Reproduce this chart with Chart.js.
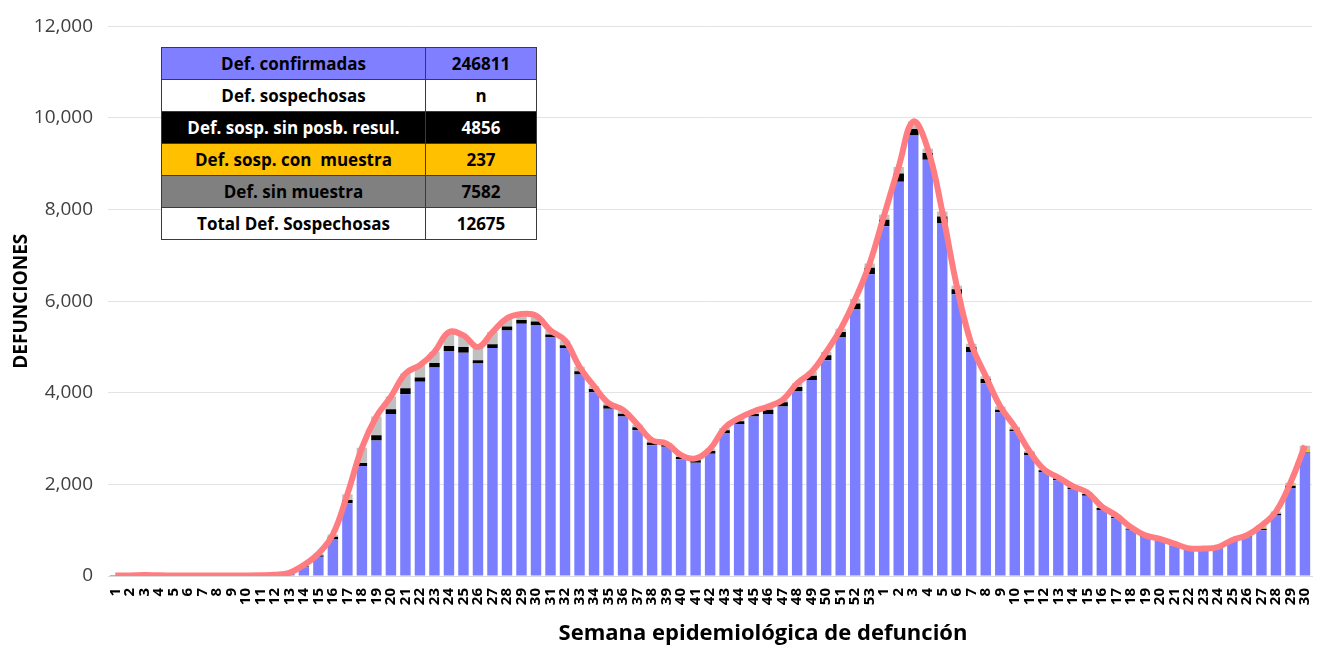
<!DOCTYPE html>
<html lang="es">
<head>
<meta charset="UTF-8">
<title>Defunciones por semana epidemiológica</title>
<script src="https://cdn.jsdelivr.net/npm/chart.js"></script>
<style>
    html, body { margin: 0; padding: 0; background: #fff; }
    #wrap { position: relative; width: 1327px; height: 647px; }
    #tabla {
        position: absolute; left: 161px; top: 47px;
        border-collapse: collapse;
        font-family: "Open Sans", sans-serif; font-weight: 700; font-size: 17px;
        color: #000;
    }
    #tabla td {
        border: 1.5px solid #3a3a3a; height: 31px; padding: 0; text-align: center;
    }
    #tabla td:first-child { width: 263px; }
    #tabla td:last-child { width: 110px; }
</style>
</head>
<body>
<div id="wrap">
    <canvas id="grafica" width="1327" height="647"></canvas>
    <table id="tabla"></table>
</div>
<script>
// semanas: 2020 (1-53) y 2021 (1-30)
const semanas = [
    '1','2','3','4','5','6','7','8','9','10','11','12','13','14','15','16','17','18','19','20',
    '21','22','23','24','25','26','27','28','29','30','31','32','33','34','35','36','37','38','39','40',
    '41','42','43','44','45','46','47','48','49','50','51','52','53',
    '1','2','3','4','5','6','7','8','9','10','11','12','13','14','15','16','17','18','19','20',
    '21','22','23','24','25','26','27','28','29','30'
];

const confirmadas = [
    0, 0, 2, 2, 2, 2, 2, 3, 3, 4, 6, 12, 45, 190, 418, 795, 1587, 2403, 2958, 3535,
    3968, 4242, 4552, 4913, 4877, 4639, 4978, 5361, 5505, 5483, 5216, 4978, 4400, 4011, 3651, 3485, 3182, 2857, 2820, 2547,
    2474, 2669, 3124, 3318, 3485, 3535, 3701, 4041, 4279, 4711, 5216, 5829, 6587,
    7634, 8608, 9617, 9091, 7706, 6154, 4892, 4206, 3578, 3160, 2640, 2273, 2093, 1898, 1753, 1443, 1262, 1010, 851, 780,
    671, 578, 570, 600, 743, 851, 1000, 1320, 1919, 2691
];

const sinPosibResul = [
    8, 8, 10, 8, 6, 5, 5, 5, 5, 5, 5, 8, 10, 15, 30, 60, 70, 65, 115, 108,
    130, 94, 100, 110, 123, 72, 80, 86, 86, 73, 58, 58, 73, 73, 72, 58, 65, 58, 52, 50,
    51, 58, 58, 59, 50, 94, 94, 87, 93, 109, 109, 123, 145,
    143, 180, 145, 145, 144, 108, 108, 94, 51, 36, 51, 36, 35, 35, 36, 44, 30, 22, 15, 10,
    10, 8, 8, 8, 10, 12, 30, 37, 51, 10
];

const conMuestra = [
    0, 0, 0, 0, 0, 0, 0, 0, 0, 0, 0, 0, 0, 0, 0, 0, 0, 0, 0, 0,
    0, 0, 0, 0, 0, 0, 0, 0, 0, 0, 0, 0, 0, 0, 0, 0, 0, 0, 0, 0,
    0, 0, 0, 0, 0, 0, 0, 0, 0, 0, 0, 0, 0,
    0, 0, 0, 0, 0, 0, 0, 0, 0, 0, 0, 0, 0, 0, 0, 0, 0, 0, 3, 3,
    4, 4, 5, 5, 5, 8, 10, 15, 30, 73
];

const sinMuestra = [
    2, 4, 8, 5, 4, 3, 3, 4, 4, 3, 4, 5, 15, 35, 40, 50, 130, 330, 410, 275,
    325, 267, 240, 300, 253, 290, 267, 180, 130, 130, 87, 108, 94, 60, 50, 86, 58, 50, 20, 43,
    43, 50, 50, 71, 58, 72, 51, 78, 87, 72, 71, 94, 93,
    109, 144, 160, 93, 109, 73, 72, 60, 72, 60, 40, 22, 22, 27, 36, 28, 28, 35, 21, 20,
    20, 14, 16, 20, 30, 20, 60, 35, 36, 71
];

// total de defunciones (línea)
const totales = [
    10, 12, 20, 15, 12, 10, 10, 12, 12, 12, 15, 25, 70, 240, 488, 905, 1787, 2798, 3483, 3918,
    4423, 4603, 4892, 5323, 5253, 5001, 5325, 5627, 5721, 5686, 5361, 5144, 4567, 4144, 3773, 3629, 3305, 2965, 2892, 2640,
    2568, 2777, 3232, 3448, 3593, 3701, 3846, 4206, 4459, 4892, 5396, 6046, 6825,
    7886, 8932, 9922, 9329, 7959, 6335, 5072, 4360, 3701, 3256, 2731, 2331, 2150, 1960, 1825, 1515, 1320, 1067, 887, 813,
    705, 604, 599, 633, 788, 891, 1100, 1407, 2036, 2845
];

const yTicks = [0, 2000, 4000, 6000, 8000, 10000, 12000];

// tabla resumen
const filasTabla = ['Def. confirmadas', 'Def. sospechosas', 'Def. sosp. sin posb. resul.', 'Def. sosp. con  muestra', 'Def. sin muestra', 'Total Def. Sospechosas'];
const valoresTabla = ['246811', 'n', '4856', '237', '7582', '12675'];
const fondosTabla = ['#7f7fff', '#ffffff', '#000000', '#ffc000', '#808080', '#ffffff'];
const textoTabla = ['#000', '#000', '#fff', '#000', '#000', '#000'];

const tabla = document.getElementById('tabla');
filasTabla.forEach((f, i) => {
    const tr = document.createElement('tr');
    tr.style.background = fondosTabla[i];
    tr.style.color = textoTabla[i];
    tr.innerHTML = `<td style="white-space:pre">${f}</td><td>${valoresTabla[i]}</td>`;
    tabla.appendChild(tr);
});

// título del eje x, un poco a la derecha del centro como en el original
const tituloX = {
    id: 'tituloX',
    afterDraw: (chart) => {
        const c = chart.ctx;
        c.save();
        c.font = 'bold 22px "Open Sans"';
        c.fillStyle = '#000';
        c.textAlign = 'center';
        c.textBaseline = 'middle';
        c.fillText('Semana epidemiológica de defunción', 763, 634);
        c.restore();
    }
};

const ctx = document.getElementById('grafica').getContext('2d');
new Chart(ctx, {
    type: 'bar',
    data: {
        labels: semanas,
        datasets: [
            {
                type: 'line',
                label: 'Total',
                data: totales,
                borderColor: '#ff7c80',
                borderWidth: 6,
                pointRadius: 0,
                tension: 0.4,
                stack: 'linea',
                order: 0
            },
            { label: 'Def. confirmadas', data: confirmadas, backgroundColor: '#7b7fff', stack: 'barras', order: 1 },
            { label: 'Def. sosp. sin posb. resul.', data: sinPosibResul, backgroundColor: '#000000', stack: 'barras', order: 1 },
            { label: 'Def. sosp. con muestra', data: conMuestra, backgroundColor: '#ffc000', stack: 'barras', order: 1 },
            { label: 'Def. sin muestra', data: sinMuestra, backgroundColor: '#c0c0c0', stack: 'barras', order: 1 }
        ]
    },
    plugins: [tituloX],
    options: {
        responsive: false,
        animation: false,
        layout: { padding: { top: 6, right: 7, left: 10, bottom: 0 } },
        datasets: {
            bar: { barPercentage: 0.72, categoryPercentage: 1 }
        },
        plugins: {
            legend: { display: false },
            tooltip: { enabled: false }
        },
        scales: {
            x: {
                stacked: true,
                grid: { display: false },
                border: { color: '#d9d9d9' },
                ticks: {
                    autoSkip: false,
                    minRotation: 90,
                    maxRotation: 90,
                    padding: 4,
                    color: '#000',
                    font: { family: 'Open Sans', size: 15, weight: 'bold' }
                },
                afterFit: (scale) => { scale.height = 71; }
            },
            y: {
                stacked: true,
                min: 0,
                max: 12000,
                grid: { color: '#e3e3e3', drawTicks: false },
                border: { display: false },
                afterBuildTicks: (scale) => { scale.ticks = yTicks.map(v => ({ value: v })); },
                ticks: {
                    padding: 15,
                    color: '#404040',
                    font: { family: 'Open Sans', size: 19 },
                    callback: (v) => v.toLocaleString('en-US')
                },
                title: {
                    display: true,
                    text: 'DEFUNCIONES',
                    color: '#000',
                    padding: { top: 0, bottom: 0 },
                    font: { family: 'Open Sans', size: 19, weight: 'bold' }
                },
                afterFit: (scale) => { scale.width = 98; }
            }
        }
    }
});
</script>
</body>
</html>
